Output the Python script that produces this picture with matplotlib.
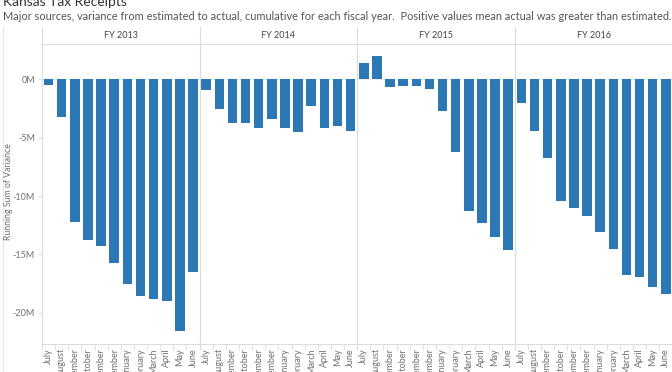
import matplotlib
matplotlib.use("Agg")
import matplotlib.pyplot as plt
from matplotlib.lines import Line2D
from matplotlib.ticker import FixedLocator, FuncFormatter

plt.rcParams['font.family'] = ['Lato', 'DejaVu Sans']

# data: running sum of variance (millions of $), per fiscal year
months = ['July', 'August', 'September', 'October', 'November', 'December',
          'January', 'February', 'March', 'April', 'May', 'June']
fiscal_years = ['FY 2013', 'FY 2014', 'FY 2015', 'FY 2016']
fy2013 = [-0.5, -3.2, -12.2, -13.8, -14.3, -15.7, -17.5, -18.6, -18.8, -19.0, -21.6, -16.5]
fy2014 = [-0.9, -2.5, -3.7, -3.7, -4.2, -3.4, -4.2, -4.5, -2.3, -4.2, -4.0, -4.4]
fy2015 = [1.4, 2.0, -0.7, -0.6, -0.6, -0.8, -2.7, -6.2, -11.3, -12.3, -13.5, -14.6]
fy2016 = [-2.0, -4.4, -6.7, -10.4, -11.0, -11.7, -13.1, -14.5, -16.8, -16.9, -17.8, -18.4]
series = [fy2013, fy2014, fy2015, fy2016]
yticks = [0, -5, -10, -15, -20]

W, H = 672, 372
fig = plt.figure(figsize=(W / 100, H / 100), dpi=100)

bar_color = '#2b78b4'
line_color = '#dddddd'
text_gray = '#707070'

left, panel_w = 42, 157.6
top, bottom = 43.5, 344

axes = []
for i, (fy, vals) in enumerate(zip(fiscal_years, series)):
    x0 = left + i * panel_w
    ax = fig.add_axes([x0 / W, 1 - bottom / H, panel_w / W, (bottom - top) / H])
    ax.bar(range(len(months)), vals, width=0.73, color=bar_color, zorder=3)
    ax.set_xlim(-0.5, len(months) - 0.5)
    ax.set_ylim(-22.68, 3.07)
    ax.set_xticks(range(len(months)))
    ax.set_xticklabels(months, rotation=90, ha='center', va='top',
                       fontsize=6.5, color=text_gray)
    ax.tick_params(axis='x', length=0, pad=3)
    ax.xaxis.set_minor_locator(FixedLocator([k + 0.5 for k in range(-1, len(months))]))
    ax.tick_params(axis='x', which='minor', length=4, color=line_color)
    for s in ['top', 'right']:
        ax.spines[s].set_visible(False)
    ax.spines['left'].set_color(line_color)
    ax.spines['bottom'].set_color(line_color)
    ax.axhline(0, color='#eeeeee', lw=0.8, zorder=1)
    if i == 0:
        ax.set_yticks(yticks)
        ax.yaxis.set_major_formatter(FuncFormatter(lambda v, p: f'{int(v)}M'))
        ax.tick_params(axis='y', length=3, color=line_color, labelsize=6.5,
                       labelcolor=text_gray, pad=2)
    else:
        ax.set_yticks([])
    fig.text((x0 + panel_w / 2) / W, 1 - 36 / H, fy, ha='center', va='center',
             fontsize=6.5, color='#444444')
    fig.add_artist(Line2D([x0 / W, x0 / W], [1 - 27 / H, 1 - bottom / H],
                          color=line_color, lw=0.8))
    axes.append(ax)

fig.text(9 / W, 1 - 192 / H, 'Running Sum of Variance', rotation=90,
         ha='center', va='center', fontsize=6.3, color=text_gray)

# header bottom line and left border
fig.add_artist(Line2D([left / W, 1], [1 - top / H, 1 - top / H], color=line_color, lw=0.8))
fig.add_artist(Line2D([3 / W, 3 / W], [1 - 27 / H, 0], color='#e6e6e6', lw=0.8))

fig.text(3 / W, 1 - 2 / H, 'Kansas Tax Receipts', ha='left', va='center',
         fontsize=10, color='#333333')
fig.text(3 / W, 1 - 16 / H,
         'Major sources, variance from estimated to actual, cumulative for each fiscal year.  '
         'Positive values mean actual was greater than estimated.',
         ha='left', va='center', fontsize=7.9, color='#555555')

fig.savefig('out.png', dpi=100)
